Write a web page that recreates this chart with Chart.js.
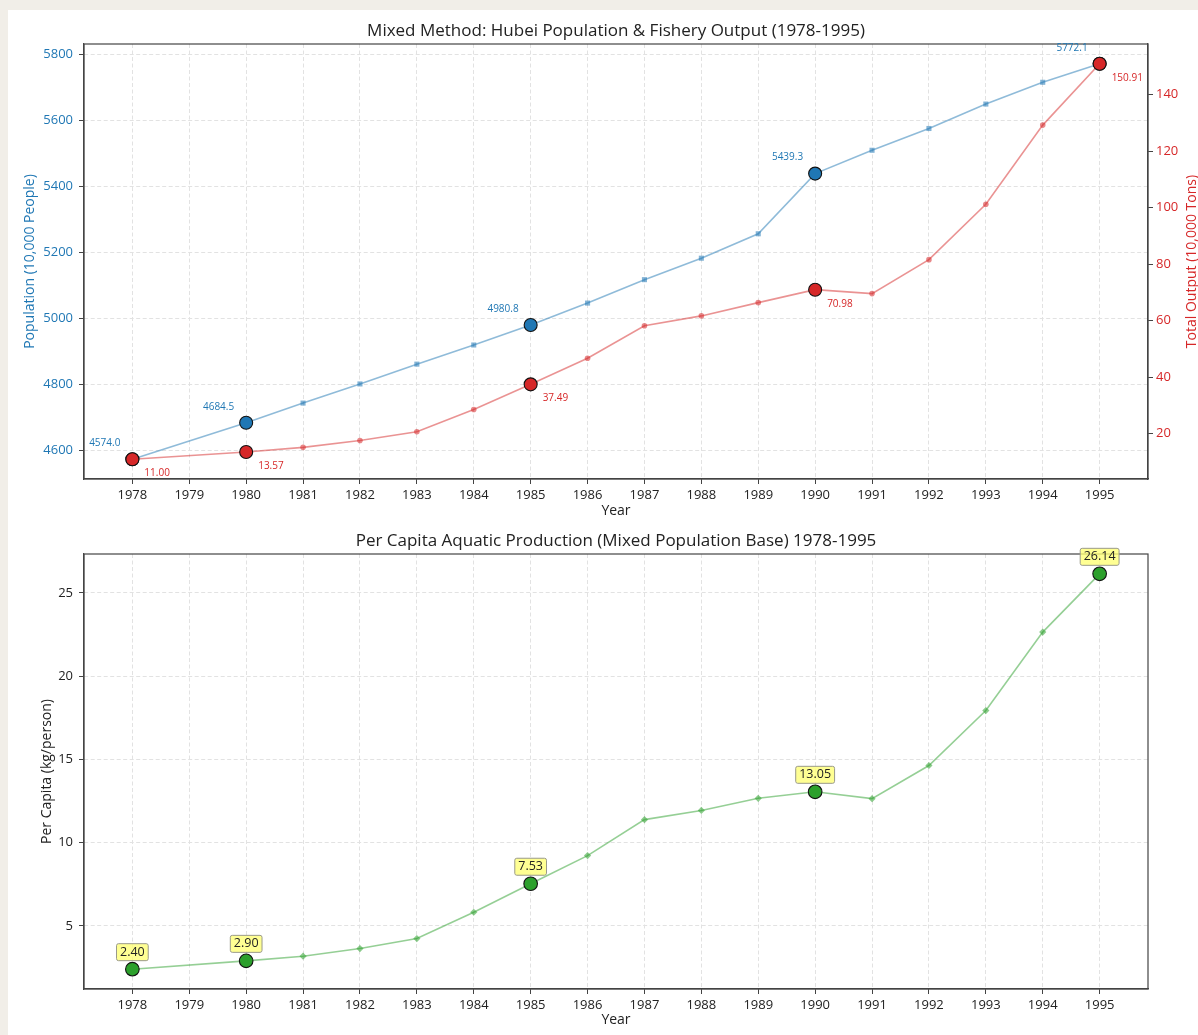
<!DOCTYPE html>
<html>
<head>
<meta charset="utf-8">
<title>Hubei Population & Fishery Output</title>
<script src="https://cdn.jsdelivr.net/npm/chart.js@4.4.0/dist/chart.umd.min.js"></script>
<style>
    html, body { margin: 0; padding: 0; background: #f1eee8; }
    #wrap { position: absolute; left: 8px; top: 10px; width: 1190px; height: 1025px; background: #fff; }
    #top-box { position: absolute; left: 0; top: 0; width: 1190px; height: 520px; }
    #bottom-box { position: absolute; left: 0; top: 520px; width: 1190px; height: 505px; }
</style>
</head>
<body>
<div id="wrap">
    <div id="top-box"><canvas id="top-chart" width="1190" height="520"></canvas></div>
    <div id="bottom-box"><canvas id="bottom-chart" width="1190" height="505"></canvas></div>
</div>
<script>
// data (1979 is missing in the source)
var years = [1978, 1980, 1981, 1982, 1983, 1984, 1985, 1986, 1987, 1988, 1989, 1990, 1991, 1992, 1993, 1994, 1995];
var population = [4574.0, 4684.5, 4744, 4802, 4862, 4920, 4980.8, 5047, 5118, 5183, 5257, 5439.3, 5510, 5576, 5650, 5716, 5772.1];
var fishery_output = [11.00, 13.57, 15.2, 17.6, 20.7, 28.6, 37.49, 46.7, 58.2, 61.7, 66.4, 70.98, 69.6, 81.6, 101.2, 129.2, 150.91];
var per_capita = [2.40, 2.90, 3.18, 3.64, 4.24, 5.82, 7.53, 9.22, 11.38, 11.93, 12.66, 13.05, 12.64, 14.63, 17.93, 22.64, 26.14];
var highlight_years = [1978, 1980, 1985, 1990, 1995];

var year_ticks = [1978, 1979, 1980, 1981, 1982, 1983, 1984, 1985, 1986, 1987, 1988, 1989, 1990, 1991, 1992, 1993, 1994, 1995];
var pop_ticks = [4600, 4800, 5000, 5200, 5400, 5600, 5800];
var output_ticks = [20, 40, 60, 80, 100, 120, 140];
var capita_ticks = [5, 10, 15, 20, 25];

var FONT = '"Open Sans", Lato, sans-serif';
var BLUE = '#1f77b4';
var RED = '#d62728';
var GREEN = '#2ca02c';
var GRID = '#e2e2e2';
var AXIS = '#444';

function isHighlight(ctx) {
    return highlight_years.indexOf(years[ctx.dataIndex]) >= 0;
}

function toPoints(values) {
    return years.map(function (y, i) { return { x: y, y: values[i] }; });
}

function fixedTicks(list) {
    return function (scale) {
        scale.ticks = list.map(function (v) { return { value: v }; });
    };
}

function fixWidth(w) {
    return function (scale) { scale.width = w; };
}

function fixHeight(h) {
    return function (scale) { scale.height = h; };
}

function plainLabel(v) {
    return String(v);
}

function xScale(height) {
    return {
        type: 'linear',
        min: 1977.15,
        max: 1995.85,
        afterBuildTicks: fixedTicks(year_ticks),
        afterFit: fixHeight(height),
        ticks: {
            autoSkip: false,
            maxRotation: 0,
            padding: 3,
            color: '#222',
            font: { family: FONT, size: 13 },
            callback: plainLabel
        },
        grid: { color: GRID, tickColor: AXIS, tickLength: 5, lineWidth: 1 },
        border: { color: AXIS, width: 1.2, dash: [4, 2.5] }
    };
}

// plot frame, titles, axis labels
var framePlugin = {
    id: 'frame',
    beforeDatasetsDraw: function (chart) {
        var a = chart.chartArea;
        var ctx = chart.ctx;
        ctx.save();
        ctx.strokeStyle = AXIS;
        ctx.lineWidth = 1.2;
        ctx.strokeRect(a.left, a.top, a.right - a.left, a.bottom - a.top);
        ctx.restore();
    },
    afterDraw: function (chart) {
        var o = chart.options.plugins.frame;
        var a = chart.chartArea;
        var ctx = chart.ctx;
        var cx = (a.left + a.right) / 2;
        var cy = (a.top + a.bottom) / 2;
        ctx.save();
        ctx.textAlign = 'center';
        ctx.textBaseline = 'middle';
        ctx.fillStyle = '#222';
        ctx.font = '17px ' + FONT;
        ctx.fillText(o.title, cx, o.titleY);
        ctx.font = '14px ' + FONT;
        ctx.fillText('Year', cx, o.xLabelY);

        o.yLabels.forEach(function (lbl) {
            ctx.save();
            ctx.translate(lbl.x, cy);
            ctx.rotate(-Math.PI / 2);
            ctx.fillStyle = lbl.color;
            ctx.fillText(lbl.text, 0, 0);
            ctx.restore();
        });
        ctx.restore();
    }
};

// value labels next to the highlighted points
var labelPlugin = {
    id: 'pointLabels',
    afterDatasetsDraw: function (chart) {
        var ctx = chart.ctx;
        var sets = chart.options.plugins.pointLabels.sets;
        ctx.save();
        sets.forEach(function (s) {
            var meta = chart.getDatasetMeta(s.dataset);
            var values = chart.data.datasets[s.dataset].data;
            years.forEach(function (yr, i) {
                if (highlight_years.indexOf(yr) < 0) return;
                var el = meta.data[i];
                var text = values[i].y.toFixed(s.digits);
                if (s.style === 'box') {
                    ctx.font = '12.5px ' + FONT;
                    var w = ctx.measureText(text).width + 7;
                    var h = 17;
                    var bx = el.x - w / 2;
                    var by = el.y - 17 - h / 2;
                    ctx.beginPath();
                    ctx.roundRect(bx, by, w, h, 2);
                    ctx.fillStyle = 'rgba(255, 255, 120, 0.8)';
                    ctx.fill();
                    ctx.lineWidth = 1;
                    ctx.strokeStyle = '#9a9a8a';
                    ctx.stroke();
                    ctx.fillStyle = '#222';
                    ctx.textAlign = 'center';
                    ctx.textBaseline = 'middle';
                    ctx.fillText(text, el.x, el.y - 17);
                } else {
                    ctx.font = '10px ' + FONT;
                    ctx.fillStyle = s.color;
                    ctx.textBaseline = 'middle';
                    ctx.textAlign = s.dx < 0 ? 'right' : 'left';
                    ctx.fillText(text, el.x + s.dx, el.y + s.dy);
                }
            });
        });
        ctx.restore();
    }
};

var TopChart = new Chart(document.getElementById('top-chart'), {
    type: 'line',
    data: {
        datasets: [{
            label: 'Total Output',
            data: toPoints(fishery_output),
            yAxisID: 'y1',
            order: 0,
            borderColor: 'rgba(214, 39, 40, 0.5)',
            borderWidth: 1.6,
            pointStyle: 'circle',
            pointRadius: function (ctx) { return isHighlight(ctx) ? 6.5 : 2.8; },
            pointBackgroundColor: function (ctx) { return isHighlight(ctx) ? RED : 'rgba(214, 39, 40, 0.55)'; },
            pointBorderColor: function (ctx) { return isHighlight(ctx) ? '#111' : 'rgba(0,0,0,0)'; },
            pointBorderWidth: function (ctx) { return isHighlight(ctx) ? 1.1 : 0; }
        }, {
            label: 'Population',
            data: toPoints(population),
            yAxisID: 'y',
            order: 1,
            borderColor: 'rgba(31, 119, 180, 0.5)',
            borderWidth: 1.6,
            pointStyle: function (ctx) { return isHighlight(ctx) ? 'circle' : 'rect'; },
            pointRadius: function (ctx) { return isHighlight(ctx) ? 6.5 : 3.6; },
            pointBackgroundColor: function (ctx) { return isHighlight(ctx) ? BLUE : 'rgba(31, 119, 180, 0.55)'; },
            pointBorderColor: function (ctx) { return isHighlight(ctx) ? '#111' : 'rgba(0,0,0,0)'; },
            pointBorderWidth: function (ctx) { return isHighlight(ctx) ? 1.1 : 0; }
        }]
    },
    plugins: [framePlugin, labelPlugin],
    options: {
        responsive: false,
        animation: false,
        events: [],
        layout: { padding: { top: 34, left: 0, right: 0, bottom: 0 } },
        plugins: {
            legend: { display: false },
            tooltip: { enabled: false },
            frame: {
                title: 'Mixed Method: Hubei Population & Fishery Output (1978-1995)',
                titleY: 21,
                xLabelY: 501,
                yLabels: [
                    { text: 'Population (10,000 People)', x: 22, color: BLUE },
                    { text: 'Total Output (10,000 Tons)', x: 1184, color: RED }
                ]
            },
            pointLabels: {
                sets: [
                    { dataset: 1, digits: 1, color: BLUE, dx: -12, dy: -16 },
                    { dataset: 0, digits: 2, color: RED, dx: 12, dy: 14 }
                ]
            }
        },
        scales: {
            x: xScale(51),
            y: {
                position: 'left',
                min: 4514,
                max: 5832,
                afterBuildTicks: fixedTicks(pop_ticks),
                afterFit: fixWidth(76),
                ticks: { padding: 6, color: BLUE, font: { family: FONT, size: 13 }, callback: plainLabel },
                grid: { color: GRID, tickColor: AXIS, tickLength: 5 },
                border: { color: AXIS, width: 1.2, dash: [4, 2.5] }
            },
            y1: {
                position: 'right',
                min: 4.0,
                max: 157.9,
                afterBuildTicks: fixedTicks(output_ticks),
                afterFit: fixWidth(50),
                ticks: { padding: 3, color: RED, font: { family: FONT, size: 13 }, callback: plainLabel },
                grid: { drawOnChartArea: false, tickColor: AXIS, tickLength: 5 },
                border: { color: AXIS, width: 1.2 }
            }
        }
    }
});

var BottomChart = new Chart(document.getElementById('bottom-chart'), {
    type: 'line',
    data: {
        datasets: [{
            label: 'Per Capita',
            data: toPoints(per_capita),
            borderColor: 'rgba(44, 160, 44, 0.5)',
            borderWidth: 1.6,
            pointStyle: function (ctx) { return isHighlight(ctx) ? 'circle' : 'rectRot'; },
            pointRadius: function (ctx) { return isHighlight(ctx) ? 6.8 : 3.6; },
            pointBackgroundColor: function (ctx) { return isHighlight(ctx) ? GREEN : 'rgba(44, 160, 44, 0.55)'; },
            pointBorderColor: function (ctx) { return isHighlight(ctx) ? '#111' : 'rgba(0,0,0,0)'; },
            pointBorderWidth: function (ctx) { return isHighlight(ctx) ? 1.1 : 0; }
        }]
    },
    plugins: [framePlugin, labelPlugin],
    options: {
        responsive: false,
        animation: false,
        events: [],
        layout: { padding: { top: 24, left: 0, right: 50, bottom: 0 } },
        plugins: {
            legend: { display: false },
            tooltip: { enabled: false },
            frame: {
                title: 'Per Capita Aquatic Production (Mixed Population Base) 1978-1995',
                titleY: 11,
                xLabelY: 490,
                yLabels: [
                    { text: 'Per Capita (kg/person)', x: 39, color: '#222' }
                ]
            },
            pointLabels: {
                sets: [
                    { dataset: 0, digits: 2, style: 'box' }
                ]
            }
        },
        scales: {
            x: xScale(46),
            y: {
                position: 'left',
                min: 1.21,
                max: 27.33,
                afterBuildTicks: fixedTicks(capita_ticks),
                afterFit: fixWidth(76),
                ticks: { padding: 6, color: '#222', font: { family: FONT, size: 13 }, callback: plainLabel },
                grid: { color: GRID, tickColor: AXIS, tickLength: 5 },
                border: { color: AXIS, width: 1.2, dash: [4, 2.5] }
            }
        }
    }
});
</script>
</body>
</html>
